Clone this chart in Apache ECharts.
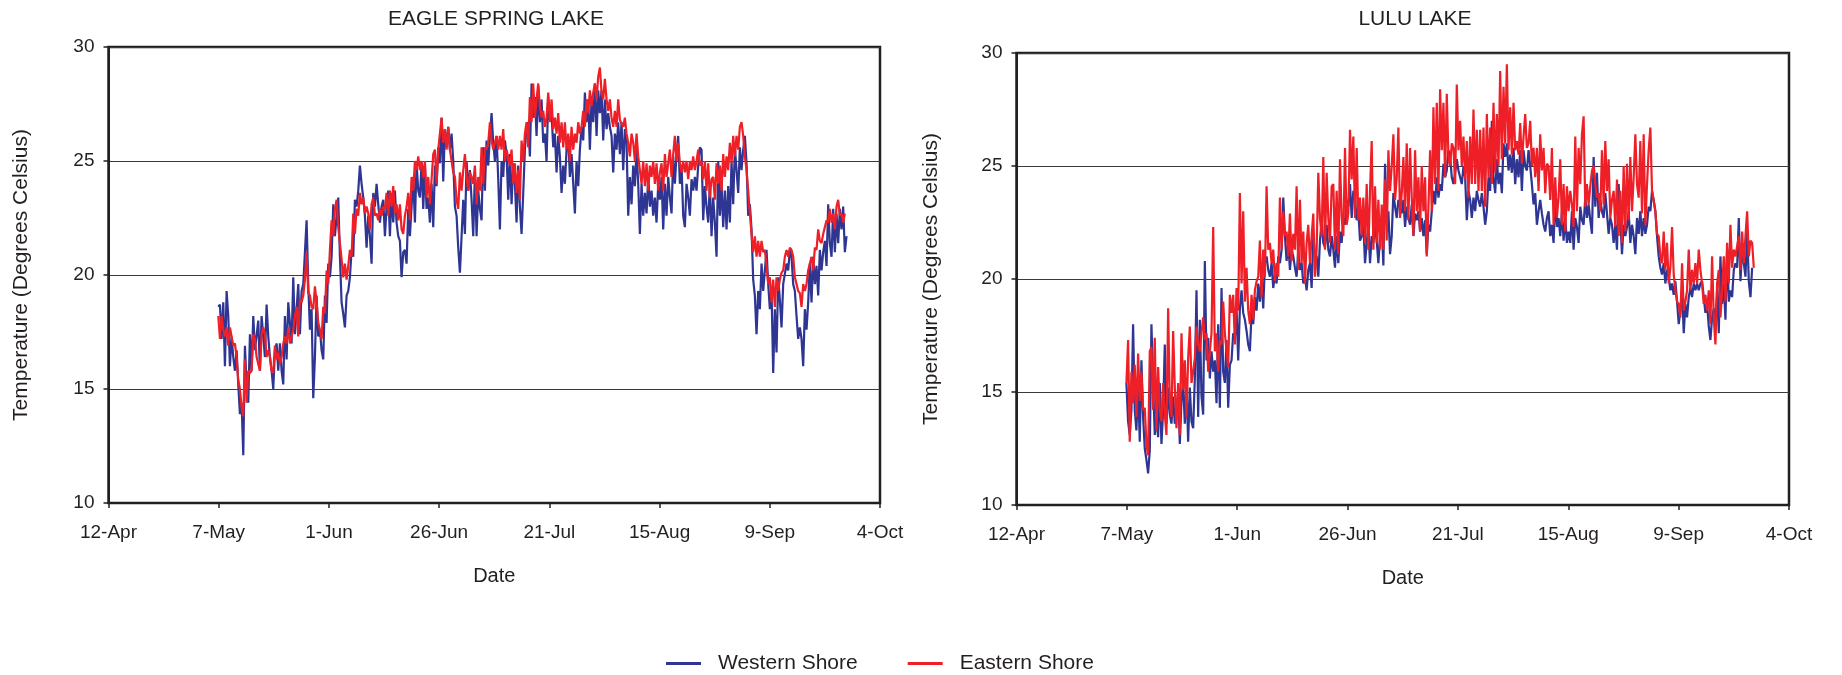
<!DOCTYPE html>
<html><head><meta charset="utf-8">
<script src="https://cdn.jsdelivr.net/npm/echarts@6/dist/echarts.min.js"></script>
<style>html,body{margin:0;padding:0;background:#fff}#c{width:1842px;height:675px}</style>
</head><body><div id="c"></div>
<script>
// Date axis: days counted from 12-Apr
const dateTickLabels = ['12-Apr','7-May','1-Jun','26-Jun','21-Jul','15-Aug','9-Sep','4-Oct'];
const tickStepDays = 25;
const firstSampleDay = 24.9;      // first reading (7-May)
const sampleStepDays = 0.378;     // spacing between readings, days

const eagleWestern = [
18.6,18.7,17.2,18.8,16.0,19.3,18.2,16.0,17.3,16.4,
15.8,16.7,15.2,13.9,14.4,12.1,16.9,15.2,14.4,17.4,
15.8,18.2,16.7,16.7,18.0,15.8,18.2,18.2,16.4,18.7,
17.3,16.4,15.8,15.0,16.7,17.0,15.8,17.0,15.8,15.2,
18.2,16.3,18.8,18.8,17.0,19.9,17.4,17.4,19.6,17.4,
19.3,19.6,21.0,22.4,19.6,17.6,18.5,14.6,16.4,19.1,
17.3,17.6,16.7,16.3,19.1,17.9,20.5,19.9,20.8,23.1,
21.7,21.7,23.4,20.8,18.8,18.3,17.7,19.1,19.3,19.9,
21.1,20.8,23.3,23.0,23.7,24.8,24.0,23.4,22.6,21.2,
22.6,21.7,20.5,23.6,23.0,24.0,23.1,22.3,23.0,23.3,
21.7,23.0,23.7,21.7,23.6,22.3,23.7,22.3,21.7,21.5,
19.9,21.0,21.1,20.5,22.9,21.7,21.7,24.3,22.3,24.9,
23.7,23.4,24.9,22.9,
24.8,22.9,23.4,22.3,24.0,22.1,24.8,23.9,25.6,24.9,
26.9,24.1,26.4,25.6,26.5,25.5,26.2,25.0,23.0,22.6,
21.2,20.1,21.7,23.3,21.8,25.0,23.7,24.6,23.3,21.7,
24.5,21.7,23.7,22.9,22.4,25.6,23.7,25.9,24.8,26.1,
27.1,25.8,25.0,26.1,24.2,22.0,25.0,24.3,25.9,25.3,
23.3,25.3,23.1,24.9,24.0,22.3,24.8,23.0,21.8,23.6,
25.5,26.5,26.7,25.2,28.4,26.9,27.8,26.1,28.3,26.7,
27.7,25.8,26.2,25.0,27.8,26.8,27.1,25.6,26.2,24.5,
26.1,25.2,23.6,24.8,24.0,25.5,26.1,24.3,25.3,24.0,
22.7,25.0,23.9,25.5,26.5,25.9,28.0,26.7,27.7,25.5,
27.7,26.7,28.4,26.1,28.1,27.1,28.1,25.9,27.7,26.4,
27.1,26.5,26.1,24.5,26.2,25.5,26.7,25.3,26.7,24.6,
26.4,25.8,22.6,24.3,23.1,24.8,23.9,25.5,24.0,
21.8,24.0,22.6,23.6,22.7,24.3,23.0,23.7,22.6,23.4,
22.3,24.0,23.3,24.3,22.0,24.0,22.6,24.3,23.4,22.7,
25.2,24.0,25.3,26.1,24.0,24.8,22.6,22.1,24.0,23.4,
22.6,24.2,23.7,24.3,23.7,24.8,25.6,25.5,22.4,23.9,
23.0,22.3,24.0,21.7,23.4,22.3,20.8,25.0,22.6,24.0,
22.1,23.7,22.0,23.9,22.3,25.0,23.1,25.6,24.6,23.6,
25.6,24.6,25.5,26.1,24.9,22.6,23.1,22.0,19.8,19.1,
17.4,19.3,18.5,20.5,19.3,20.2,21.1,19.6,18.5,19.3,
15.7,18.5,16.6,19.9,18.9,17.7,19.6,19.6,20.5,20.2,
21.1,20.8,19.6,19.3,18.2,17.2,17.7,17.2,16.0,18.5,
17.6,18.8,20.5,18.8,20.8,19.6,20.4,19.1,21.1,20.2,
21.0,21.5,20.4,23.1,21.4,20.8,22.9,21.0,22.7,21.4,
22.9,22.0,23.0,21.0,21.7
];

const eagleEastern = [
18.2,17.2,18.2,17.6,17.3,17.7,16.9,17.7,17.3,16.9,
17.0,16.4,15.4,15.0,14.2,13.8,16.3,14.4,15.8,15.7,
15.8,17.4,17.2,16.4,16.1,15.8,17.4,17.7,17.4,16.4,
16.7,16.4,15.8,15.7,16.9,16.3,16.6,16.1,16.4,17.0,
17.3,17.0,17.7,17.0,17.3,17.6,18.2,18.6,17.3,18.9,
18.8,19.1,19.8,21.0,19.2,19.1,18.6,18.5,19.5,18.8,
17.9,17.6,17.2,18.6,18.3,20.2,19.6,21.1,22.4,21.7,
22.9,23.3,22.1,21.4,20.7,19.9,20.5,19.8,20.4,21.1,
20.8,22.7,21.8,22.9,22.6,23.6,23.1,23.4,22.7,23.0,
22.7,22.0,23.1,23.4,22.6,22.7,22.4,22.9,22.6,23.0,
22.9,23.6,22.6,23.7,23.0,23.9,22.7,23.1,22.4,23.1,
22.0,21.8,22.6,23.0,23.6,22.4,24.3,23.7,25.0,24.6,
25.2,24.6,25.0,24.3,
25.0,23.4,24.3,23.1,24.2,25.3,25.5,24.0,25.5,25.5,
26.9,25.8,26.4,25.5,26.5,25.5,25.5,24.5,24.3,23.3,
22.9,24.5,23.7,24.6,25.3,24.3,23.7,24.5,24.3,24.0,
24.8,23.1,24.3,23.7,25.6,24.0,25.6,25.5,25.8,26.7,
25.9,25.5,25.8,26.1,25.5,26.1,25.5,26.4,25.0,25.5,
25.5,24.8,25.5,24.0,24.9,23.6,24.6,23.3,25.9,25.0,
26.2,26.7,25.6,27.8,26.7,28.4,26.9,27.7,28.4,27.4,
26.9,27.2,26.5,26.9,28.0,26.7,27.7,26.4,26.9,26.2,
27.1,25.8,26.7,25.6,26.7,25.5,26.2,25.0,26.5,25.5,
26.2,25.8,26.7,26.2,26.5,27.2,26.5,27.7,27.1,28.1,
27.4,28.0,28.4,27.7,28.7,29.1,28.0,27.7,28.6,27.7,
27.2,27.7,26.9,26.5,27.2,26.5,27.7,26.8,26.8,26.5,
26.9,26.2,25.8,25.2,26.2,25.8,25.0,26.2,25.2,
25.2,24.0,25.0,23.9,24.9,23.7,24.8,24.3,25.0,24.0,
24.9,23.7,24.5,24.9,23.7,25.3,24.3,24.9,25.5,24.3,
25.3,26.1,25.0,25.8,24.9,24.5,25.0,24.5,25.0,24.2,
25.0,24.6,25.2,24.6,25.0,25.5,24.8,25.0,24.2,25.0,
23.7,24.9,23.4,24.2,24.3,23.3,24.9,24.0,24.8,23.7,
25.3,24.3,25.2,24.6,25.8,24.9,26.1,25.2,26.1,25.5,
26.5,26.7,26.1,25.2,24.6,23.7,22.7,21.8,21.0,21.7,
20.8,21.5,20.8,21.5,21.0,21.1,20.4,19.6,19.9,18.8,
19.8,18.6,19.9,19.3,19.8,20.1,20.2,20.8,21.1,20.8,
21.2,21.1,20.8,19.9,19.6,19.3,19.2,18.6,19.6,19.3,
19.6,20.2,20.5,20.8,20.2,21.2,21.1,22.0,21.5,21.4,
21.8,21.8,22.4,22.3,22.9,22.3,22.7,22.0,23.0,23.3,
22.6,22.7,22.3,22.7
];

const luluWestern = [
15.4,13.7,13.1,14.2,18.0,14.2,13.3,15.4,12.8,16.4,
13.9,12.5,12.0,11.4,12.4,18.0,15.4,13.1,13.9,13.0,
15.4,12.7,14.2,17.1,13.6,15.2,14.0,13.6,14.8,13.6,
13.9,15.1,12.7,14.6,15.4,13.6,15.4,12.8,15.2,13.7,
13.4,15.6,19.5,13.9,18.2,14.8,14.0,20.8,16.4,17.4,
15.6,16.8,15.9,16.4,14.5,18.0,14.3,19.6,15.9,15.4,
17.3,14.3,16.2,16.4,17.6,17.4,18.7,16.4,18.7,19.5,
18.5,18.2,17.7,17.1,16.8,18.5,18.0,19.2,18.6,19.8,
19.0,20.1,18.7,20.7,21.0,20.4,20.1,20.7,19.6,20.2,
19.8,21.0,20.7,21.3,23.6,21.9,20.8,21.6,20.4,21.3,
21.0,20.5,20.1,21.3,20.4,20.7,19.8,20.1,19.5,20.4,
20.7,19.6,21.9,21.1,21.0,20.1,21.7,22.6,21.6,21.4,
22.4,21.3,21.0,21.9,
21.3,20.5,21.9,20.7,22.1,21.6,22.7,22.4,23.5,23.2,
24.2,22.7,23.9,23.6,22.6,23.0,21.7,21.9,22.4,20.7,
21.6,22.4,20.7,21.9,21.6,22.3,21.7,20.7,21.9,22.4,
20.6,25.1,22.7,23.0,21.1,21.9,23.8,23.2,22.7,23.5,
23.2,22.9,23.5,22.3,23.2,22.7,22.4,23.3,21.9,22.9,
22.6,23.0,22.1,22.7,21.9,22.6,21.1,22.4,22.1,23.0,
23.9,23.3,24.5,23.6,24.2,23.9,25.1,24.5,24.8,25.7,
25.4,24.5,24.2,24.7,25.3,24.8,24.5,24.2,25.0,24.5,
22.6,23.9,23.5,22.7,23.6,23.0,23.9,23.5,23.2,23.8,
23.2,22.4,23.0,24.5,23.9,27.0,24.5,23.8,25.3,24.2,
24.7,23.8,26.0,25.4,26.0,24.8,25.5,24.7,25.8,24.2,
25.3,24.5,25.7,23.9,25.7,25.0,24.8,25.7,25.0,24.2,
23.3,23.8,22.4,23.0,23.5,22.9,22.4,22.1,22.7,
23.0,21.9,22.4,21.6,23.6,22.3,22.7,21.9,23.0,21.7,
22.7,21.6,22.1,21.6,23.0,21.3,22.7,22.3,21.6,23.2,
22.6,22.4,23.6,22.7,23.3,22.6,22.0,25.4,23.2,24.7,
22.7,23.5,23.0,22.7,23.8,22.9,22.0,22.7,22.4,21.6,
22.4,21.3,24.2,22.6,21.1,22.4,21.9,22.3,23.0,21.6,
22.4,21.9,21.1,22.7,22.0,23.0,21.9,22.7,22.0,22.4,
23.2,23.0,23.9,23.5,23.0,21.9,21.0,20.5,20.2,20.7,
19.8,20.4,20.1,19.5,19.8,19.3,19.9,19.0,18.0,18.6,
19.5,17.6,18.9,18.3,19.2,19.6,19.2,19.8,19.5,19.8,
19.5,19.8,19.9,19.2,18.5,18.9,17.9,17.3,18.3,18.7,
18.0,19.5,17.6,21.0,18.9,19.8,18.2,21.3,19.0,19.5,
19.2,20.4,20.7,20.5,22.7,19.9,21.3,20.7,20.1,22.1,
19.9,19.2,20.5
];

const luluEastern = [
15.4,17.3,12.8,15.9,14.5,16.2,13.9,16.7,14.6,15.9,
14.2,14.3,12.7,12.2,16.8,17.0,14.2,17.4,13.3,16.1,
14.2,13.7,15.4,14.0,13.1,18.7,14.6,13.9,17.7,15.2,
13.4,15.4,13.1,17.6,15.1,16.4,13.9,16.5,17.9,15.4,
15.9,16.5,17.9,17.1,16.8,17.6,18.3,17.3,17.6,15.9,
16.8,17.6,22.3,16.8,17.6,15.9,17.3,17.1,19.0,17.6,
16.8,16.1,19.3,18.5,19.3,17.1,19.6,18.6,23.8,19.8,
23.0,19.0,20.5,18.6,18.0,19.3,18.2,19.5,19.9,20.1,
21.7,19.2,21.3,20.1,24.1,21.3,21.6,20.7,21.3,19.9,
20.7,20.1,23.6,21.3,23.0,21.9,22.1,21.0,22.9,20.8,
22.0,21.3,24.1,20.4,23.5,20.7,22.1,19.8,21.6,22.4,
20.7,21.9,22.9,20.1,21.3,24.7,22.7,21.9,25.4,21.3,
24.7,22.7,21.6,24.1,
24.2,21.3,23.9,21.1,25.3,22.7,21.9,25.8,22.4,22.9,
26.6,24.4,26.3,22.7,25.8,22.6,23.6,21.9,23.6,21.6,
24.2,21.3,23.9,26.1,21.3,24.1,21.6,23.5,21.3,23.3,
21.3,24.4,21.7,25.7,23.9,25.0,26.4,23.5,24.5,26.7,
22.7,23.8,25.4,23.0,26.0,22.6,25.8,23.6,21.9,25.7,
23.0,24.5,22.1,25.0,23.0,24.5,21.0,23.2,25.7,23.0,
27.6,24.2,27.8,23.9,28.4,25.7,27.8,24.5,28.2,25.4,
25.0,26.0,25.8,24.2,28.6,25.7,27.0,25.0,26.3,24.4,
26.1,23.6,26.3,24.2,27.5,24.2,26.6,23.9,26.6,23.9,
26.7,23.2,27.3,24.5,26.7,24.2,27.8,24.7,27.3,25.0,
29.2,25.3,28.5,26.0,29.5,25.7,27.6,25.5,27.8,25.7,
26.1,25.5,26.9,25.1,26.3,27.3,25.8,26.0,27.0,25.0,
25.8,24.5,25.8,23.9,26.4,24.8,25.8,23.8,25.1,
25.0,23.5,25.8,22.4,24.5,22.7,23.6,25.3,22.4,24.2,
22.1,24.1,23.0,23.9,23.3,22.3,26.3,23.0,25.8,24.2,
26.4,27.2,23.2,24.2,23.3,24.1,24.8,25.0,24.2,23.6,
23.8,23.0,25.7,23.3,26.1,23.9,25.3,22.7,23.5,23.9,
22.3,24.4,21.9,23.9,21.6,25.0,22.1,25.1,22.6,25.4,
23.0,24.5,26.4,24.2,23.6,26.1,22.9,26.4,22.4,24.2,
25.7,26.7,23.9,23.9,23.0,22.0,21.9,21.0,20.7,22.1,
20.4,21.6,19.8,20.5,22.3,20.2,19.5,19.0,18.9,18.3,
20.7,18.6,19.0,19.5,21.3,19.5,20.4,19.8,20.7,19.8,
21.3,20.4,19.8,18.9,19.3,18.6,19.5,18.0,21.0,18.3,
17.1,19.8,20.4,18.3,19.5,21.0,19.0,21.6,19.8,22.4,
20.5,21.3,21.0,21.0,21.9,20.4,22.1,20.7,21.9,23.0,
21.0,21.7,21.6,20.5
];

const chartTitles = ['EAGLE SPRING LAKE', 'LULU LAKE'];
const seriesNames = ['Western Shore', 'Eastern Shore'];
const yAxisTitle = 'Temperature (Degrees Celsius)';
const xAxisTitle = 'Date';

function toPoints(vals) {
  return vals.map((v, i) => [firstSampleDay + i * sampleStepDays, v]);
}

const FONT = '"Liberation Sans", Arial, Helvetica, sans-serif';
const INK = '#231f20';
const BLUE = '#2e3592';
const RED = '#ee1f26';

function makeX(gi) {
  return {
    type: 'value', gridIndex: gi, min: 0, max: 175, interval: tickStepDays,
    name: xAxisTitle, nameLocation: 'middle', nameGap: 63,
    nameTextStyle: { fontSize: 20, color: INK, fontFamily: FONT },
    axisLine: { show: true, onZero: false, lineStyle: { color: INK, width: 2 } },
    axisTick: { show: true, length: 5, lineStyle: { color: INK, width: 1.5 } },
    axisLabel: { fontSize: 19, color: INK, fontFamily: FONT, margin: 20,
      formatter: v => dateTickLabels[Math.round(v / tickStepDays)] },
    splitLine: { show: false }
  };
}
function makeY(gi, gap) {
  return {
    type: 'value', gridIndex: gi, min: 10, max: 30, interval: 5,
    name: yAxisTitle, nameLocation: 'middle', nameGap: gap, nameRotate: 90,
    nameTextStyle: { fontSize: 21, color: INK, fontFamily: FONT },
    axisLine: { show: true, lineStyle: { color: INK, width: 2 } },
    axisTick: { show: true, length: 5, lineStyle: { color: INK, width: 1.5 } },
    axisLabel: { fontSize: 19, color: INK, fontFamily: FONT, margin: 14 },
    splitLine: { show: true, lineStyle: { color: '#3a3a3a', width: 1.2 } }
  };
}
function line(name, data, gi, color, z) {
  return {
    name, type: 'line', xAxisIndex: gi, yAxisIndex: gi, data,
    showSymbol: false, symbol: 'none', z,
    lineStyle: { color, width: 2.2 }, itemStyle: { color },
    emphasis: { disabled: true }
  };
}

const chart = echarts.init(document.getElementById('c'), null, { renderer: 'canvas' });
chart.setOption({
  animation: false,
  backgroundColor: '#ffffff',
  textStyle: { fontFamily: FONT },
  title: [
    { text: chartTitles[0], left: 491, top: 4, textAlign: 'center',
      textStyle: { fontSize: 21, fontWeight: 'normal', color: INK, fontFamily: FONT } },
    { text: chartTitles[1], left: 1410, top: 4, textAlign: 'center',
      textStyle: { fontSize: 21, fontWeight: 'normal', color: INK, fontFamily: FONT } }
  ],
  legend: {
    data: seriesNames, left: 661, top: 648, icon: 'rect',
    itemWidth: 35, itemHeight: 3, itemGap: 50,
    textStyle: { fontSize: 21, color: INK, fontFamily: FONT, padding: [0, 0, 0, 12] }
  },
  grid: [
    { left: 108.5, top: 47, width: 771.5, height: 456, show: true, borderColor: INK, borderWidth: 2.5, backgroundColor: '#fff' },
    { left: 1016.5, top: 53, width: 772.5, height: 452, show: true, borderColor: INK, borderWidth: 2.5, backgroundColor: '#fff' }
  ],
  xAxis: [makeX(0), makeX(1)],
  yAxis: [makeY(0, 77), makeY(1, 75)],
  series: [
    line(seriesNames[0], toPoints(eagleWestern), 0, BLUE, 2),
    line(seriesNames[1], toPoints(eagleEastern), 0, RED, 3),
    line(seriesNames[0], toPoints(luluWestern), 1, BLUE, 2),
    line(seriesNames[1], toPoints(luluEastern), 1, RED, 3)
  ]
});
</script>
</body></html>
